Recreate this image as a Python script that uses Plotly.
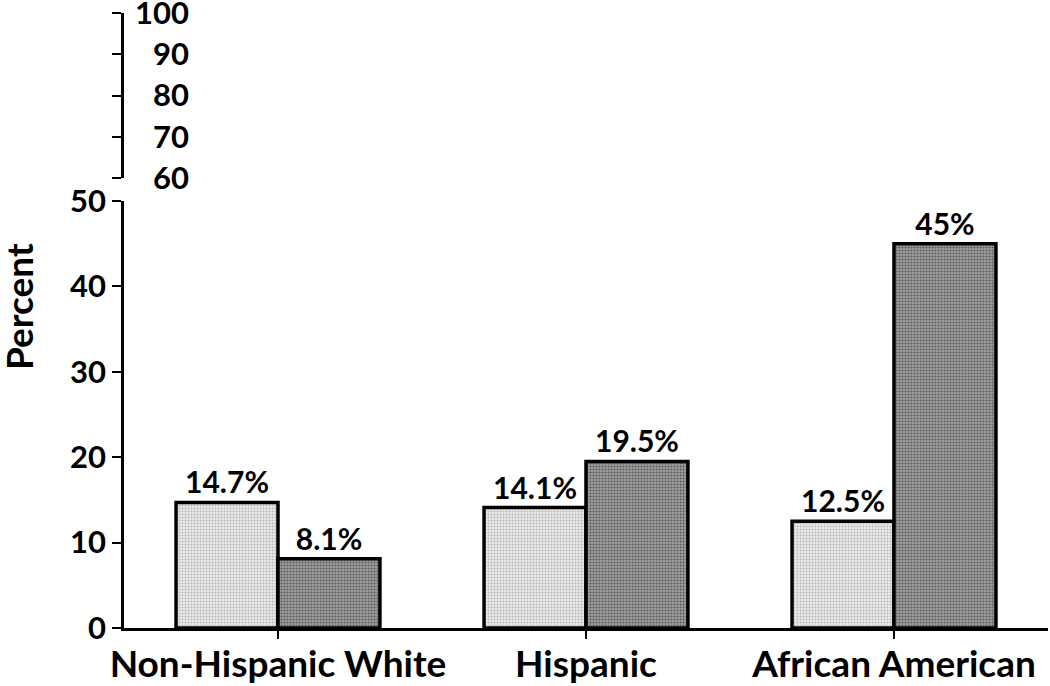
import plotly.graph_objects as go

categories = ["Non-Hispanic White", "Hispanic", "African American"]
series_a_values = [14.7, 14.1, 12.5]
series_b_values = [8.1, 19.5, 45.0]
series_a_labels = ["14.7%", "14.1%", "12.5%"]
series_b_labels = ["8.1%", "19.5%", "45%"]
lower_ticks = [0, 10, 20, 30, 40, 50]
upper_ticks = [60, 70, 80, 90, 100]
upper_ticktext = ["\u200760", "\u200770", "\u200780", "\u200790", "100"]
y_title = "Percent"

FONT = "Lato"

fig = go.Figure()
fig.add_trace(go.Bar(
    x=categories, y=series_a_values, text=series_a_labels,
    textposition="outside", cliponaxis=False,
    textfont=dict(family=FONT, size=30, color="black", weight="bold"),
    marker=dict(color="#dadada",
                line=dict(color="black", width=3.5),
                pattern=dict(shape=".", size=3, solidity=0.4,
                             fgcolor="#b8b8b8", bgcolor="#ececec")),
    yaxis="y", showlegend=False,
))
fig.add_trace(go.Bar(
    x=categories, y=series_b_values, text=series_b_labels,
    textposition="outside", cliponaxis=False,
    textfont=dict(family=FONT, size=30, color="black", weight="bold"),
    marker=dict(color="#858585",
                line=dict(color="black", width=3.5),
                pattern=dict(shape=".", size=3, solidity=0.4,
                             fgcolor="#5a5a5a", bgcolor="#a0a0a0")),
    yaxis="y", showlegend=False,
))
# invisible traces to realise the upper (broken) axis segment and its labels
fig.add_trace(go.Scatter(x=[categories[0]], y=[None], yaxis="y2",
                         mode="markers", showlegend=False, hoverinfo="skip"))
fig.add_trace(go.Scatter(x=[categories[0]], y=[None], yaxis="y3",
                         mode="markers", showlegend=False, hoverinfo="skip"))

W, H = 1050, 686
ml, mr, mt, mb = 124, 2, 13, 58
ph = H - mt - mb
plot_bottom = H - mb
lower_top = (plot_bottom - 201) / ph
upper_bottom = (plot_bottom - 178) / ph

fig.update_layout(
    template="none",
    width=W, height=H,
    margin=dict(l=ml, r=mr, t=mt, b=mb),
    paper_bgcolor="white", plot_bgcolor="white",
    barmode="group", bargap=0.338, bargroupgap=0,
    font=dict(family=FONT, color="black"),
    xaxis=dict(
        anchor="y", range=[-0.5, 2.5], showline=True, linecolor="black", linewidth=2.5,
        ticks="outside", ticklen=8, tickwidth=2, tickcolor="black",
        ticklabelstandoff=-6,
        tickfont=dict(family=FONT, size=37, color="black", weight="bold"),
        showgrid=False, zeroline=False, automargin=False,
    ),
    yaxis=dict(
        domain=[0, lower_top], range=[0, 50], anchor="x",
        tickvals=lower_ticks, showline=True, linecolor="black", linewidth=2.5,
        ticks="outside", ticklen=9, tickwidth=2, tickcolor="black",
        tickfont=dict(family=FONT, size=31, color="black", weight="bold"),
        showgrid=False, zeroline=False, automargin=False,
    ),
    yaxis2=dict(
        domain=[upper_bottom, 1], range=[60, 100], anchor="x",
        tickvals=upper_ticks, showticklabels=False,
        showline=True, linecolor="black", linewidth=2.5,
        ticks="outside", ticklen=9, tickwidth=2, tickcolor="black",
        showgrid=False, zeroline=False, automargin=False,
    ),
    yaxis3=dict(
        overlaying="y2", anchor="free", position=0, side="right",
        range=[60, 100], tickvals=upper_ticks, ticktext=upper_ticktext,
        showline=False, ticks="", ticklabelstandoff=10,
        ticklabeloverflow="allow",
        tickfont=dict(family=FONT, size=31, color="black", weight="bold"),
        showgrid=False, zeroline=False, automargin=False,
    ),
    annotations=[dict(
        text=y_title, textangle=-90, showarrow=False,
        xref="paper", yref="paper",
        x=(18 - ml) / (W - ml - mr), y=(plot_bottom - 307) / ph,
        xanchor="center", yanchor="middle",
        font=dict(family=FONT, size=37, color="black", weight="bold"),
    )],
)

fig.write_html("out.html", config={"displayModeBar": False},
               post_script="document.body.style.margin='0';")
